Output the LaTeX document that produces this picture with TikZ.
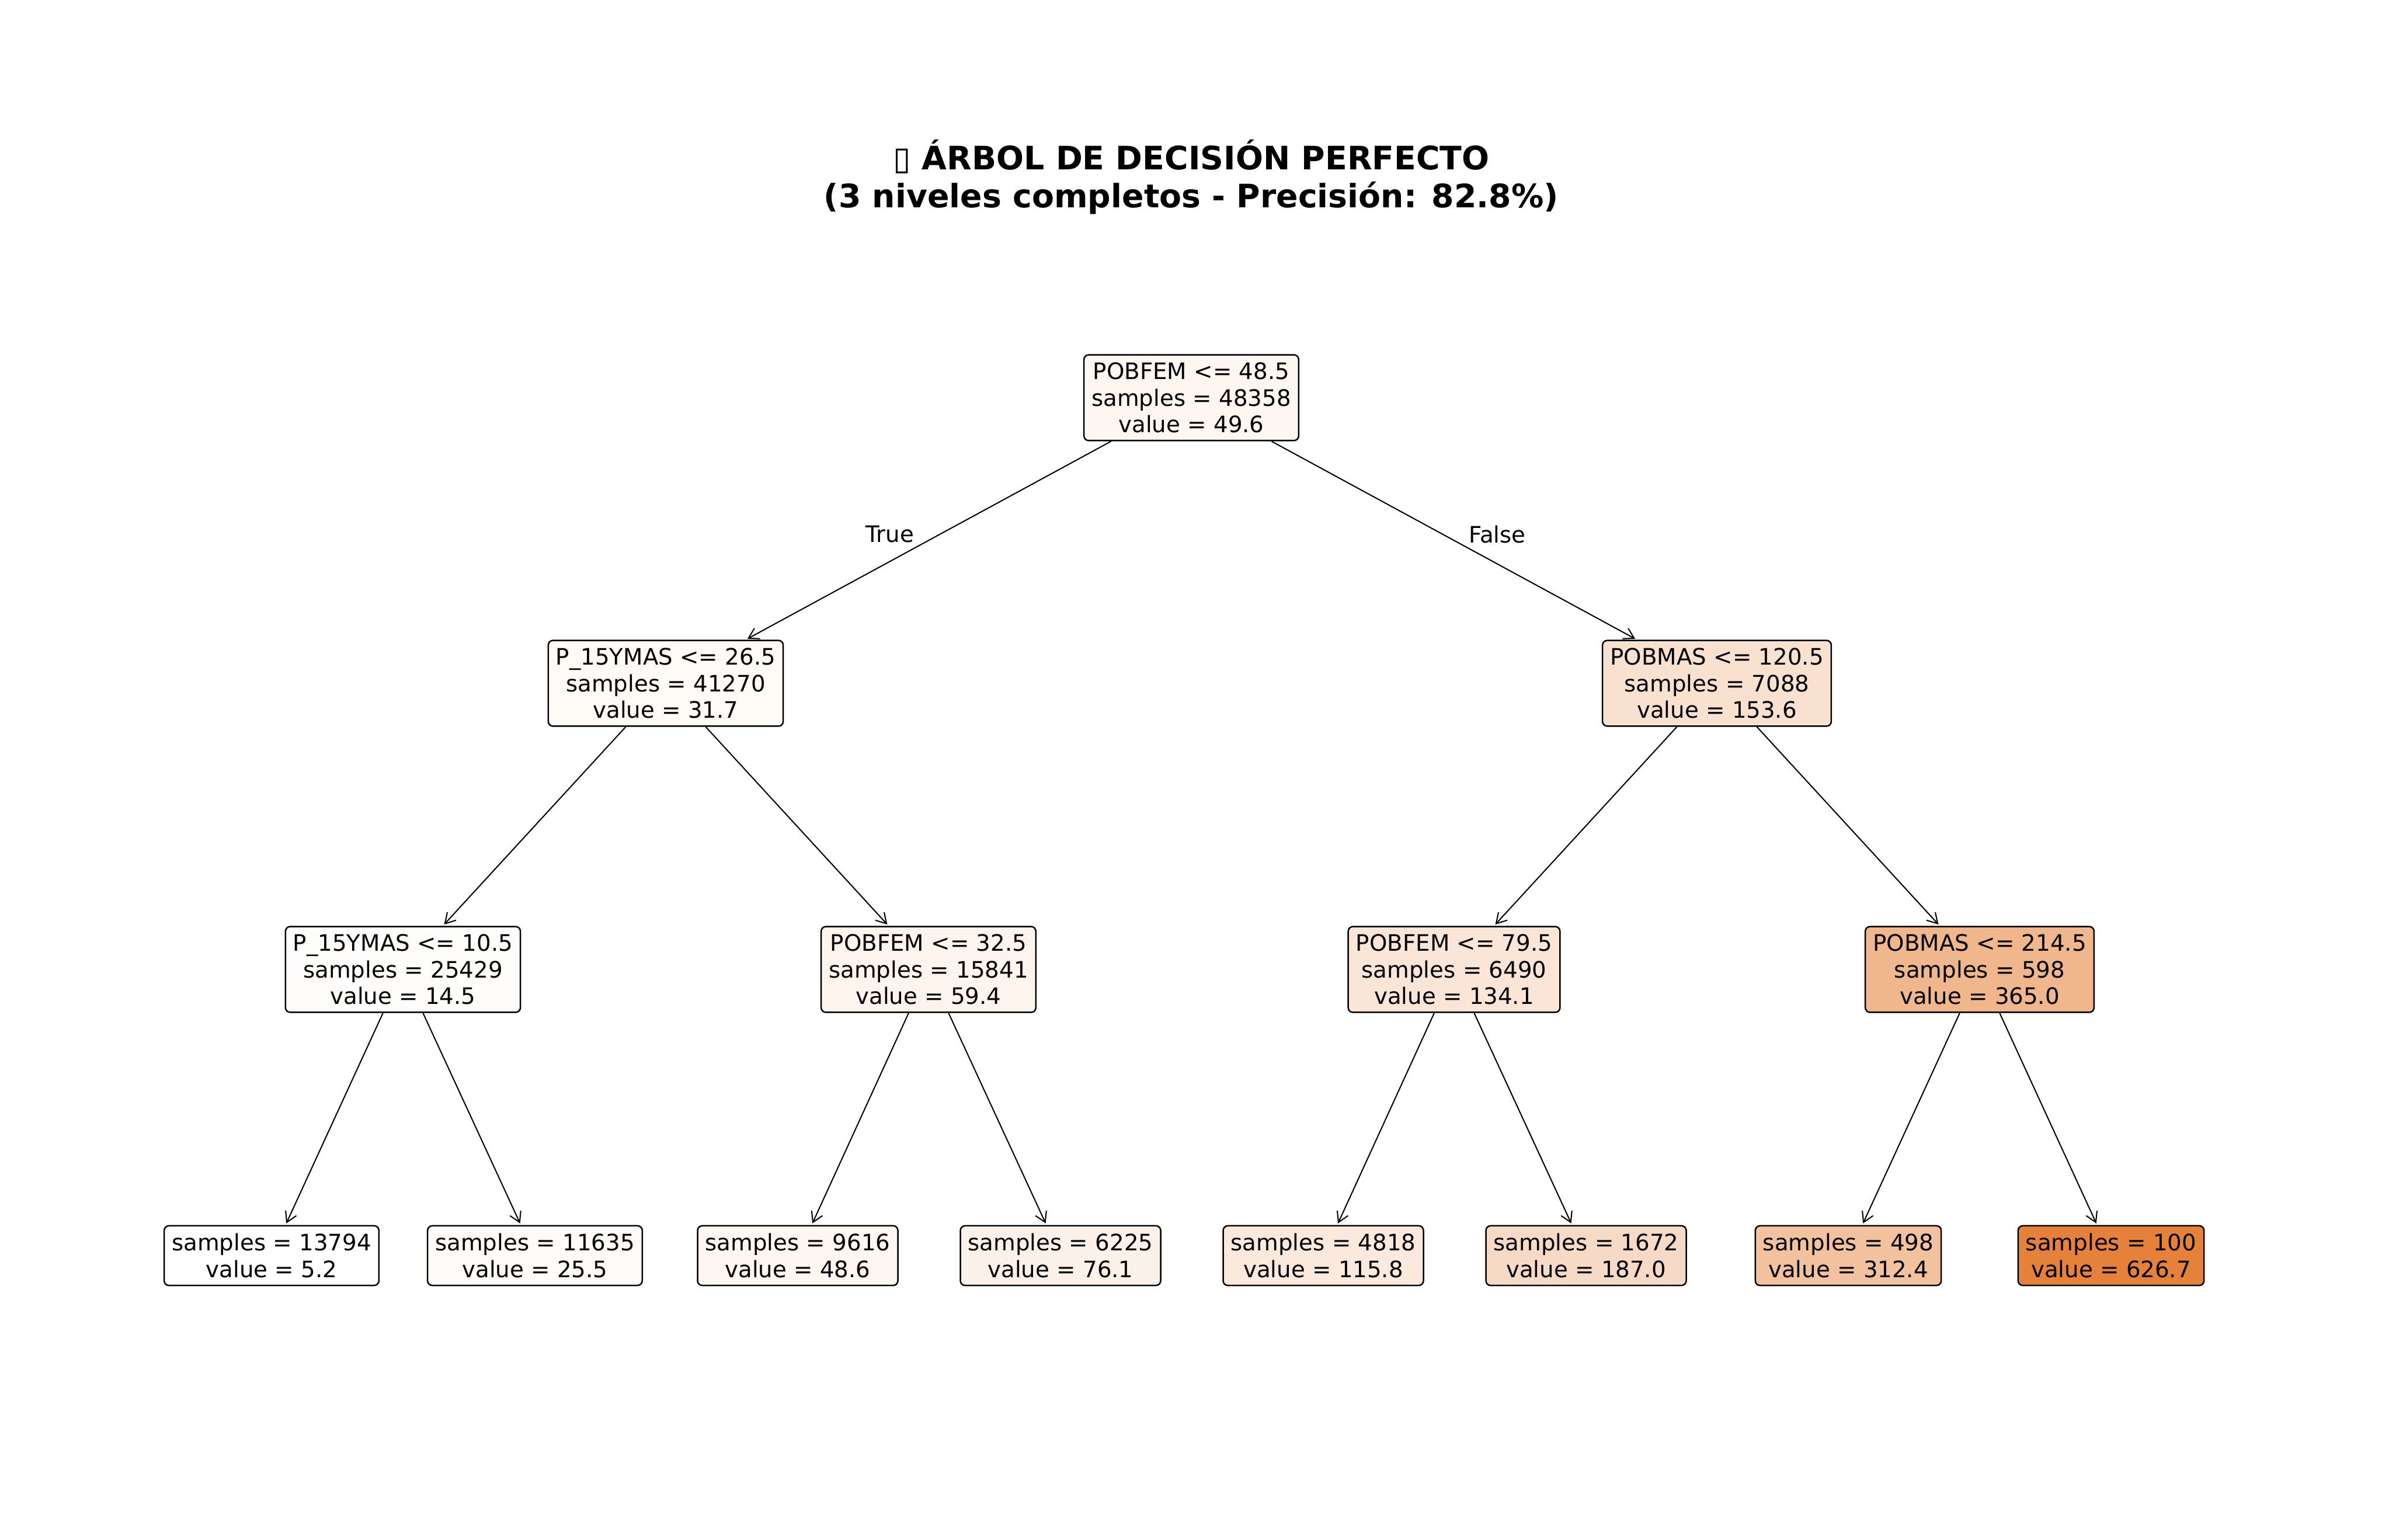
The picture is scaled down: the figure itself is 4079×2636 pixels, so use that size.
\documentclass[tikz,border=0pt]{standalone}
\usepackage{fontspec}
\setmainfont{DejaVu Sans}
\usetikzlibrary{arrows.meta}
\definecolor{sko}{HTML}{E58139}
\tikzset{
  tbox/.style={draw=black, line width=0.8pt, rounded corners=2.6pt, align=center,
    inner xsep=4.2pt, inner ysep=4.3pt, font=\fontsize{12.4}{14.5}\selectfont},
  edge/.style={draw=black, line width=0.65pt, -{Straight Barb[length=5.5pt,width=6.5pt]}, shorten >=1pt},
  elabel/.style={font=\fontsize{12.4}{14}\selectfont}
}
\begin{document}
\begin{tikzpicture}[x=0.32pt,y=-0.32pt]
\useasboundingbox[fill=white] (0,0) rectangle (4079,2636);
\node[font=\fontsize{17.7}{20.8}\bfseries\selectfont, align=center] (title) at (2040,303)
  {▯ ÁRBOL DE DECISIÓN PERFECTO\\(3 niveles completos - Precisión: 82.8\%)};
% level 1
\node[tbox, fill=sko!7.1] (n0) at (2040,681) {POBFEM <= 48.5\\samples = 48358\\value = 49.6};
% level 2
\node[tbox, fill=sko!4.3] (n1) at (1140,1170) {P\_15YMAS <= 26.5\\samples = 41270\\value = 31.7};
\node[tbox, fill=sko!23.9] (n2) at (2940,1170) {POBMAS <= 120.5\\samples = 7088\\value = 153.6};
% level 3
\node[tbox, fill=sko!1.5] (n3) at (690,1660) {P\_15YMAS <= 10.5\\samples = 25429\\value = 14.5};
\node[tbox, fill=sko!8.7] (n4) at (1590,1660) {POBFEM <= 32.5\\samples = 15841\\value = 59.4};
\node[tbox, fill=sko!20.7] (n5) at (2490,1660) {POBFEM <= 79.5\\samples = 6490\\value = 134.1};
\node[tbox, fill=sko!57.9] (n6) at (3390,1660) {POBMAS <= 214.5\\samples = 598\\value = 365.0};
% leaves
\node[tbox, fill=white] (l1) at (465,2150) {samples = 13794\\value = 5.2};
\node[tbox, fill=sko!3.3] (l2) at (916,2150) {samples = 11635\\value = 25.5};
\node[tbox, fill=sko!7.0] (l3) at (1366,2150) {samples = 9616\\value = 48.6};
\node[tbox, fill=sko!11.4] (l4) at (1816,2150) {samples = 6225\\value = 76.1};
\node[tbox, fill=sko!17.8] (l5) at (2266,2150) {samples = 4818\\value = 115.8};
\node[tbox, fill=sko!29.3] (l6) at (2716,2150) {samples = 1672\\value = 187.0};
\node[tbox, fill=sko!49.4] (l7) at (3165,2150) {samples = 498\\value = 312.4};
\node[tbox, fill=sko!100] (l8) at (3615,2150) {samples = 100\\value = 626.7};
% edges
\draw[edge] (n0) -- (n1);
\draw[edge] (n0) -- (n2);
\draw[edge] (n1) -- (n3);
\draw[edge] (n1) -- (n4);
\draw[edge] (n2) -- (n5);
\draw[edge] (n2) -- (n6);
\draw[edge] (n3) -- (l1);
\draw[edge] (n3) -- (l2);
\draw[edge] (n4) -- (l3);
\draw[edge] (n4) -- (l4);
\draw[edge] (n5) -- (l5);
\draw[edge] (n5) -- (l6);
\draw[edge] (n6) -- (l7);
\draw[edge] (n6) -- (l8);
% labels
\node[elabel] (tlab) at (1524,915) {True};
\node[elabel] (flab) at (2564,915) {False};
\end{tikzpicture}
\end{document}
